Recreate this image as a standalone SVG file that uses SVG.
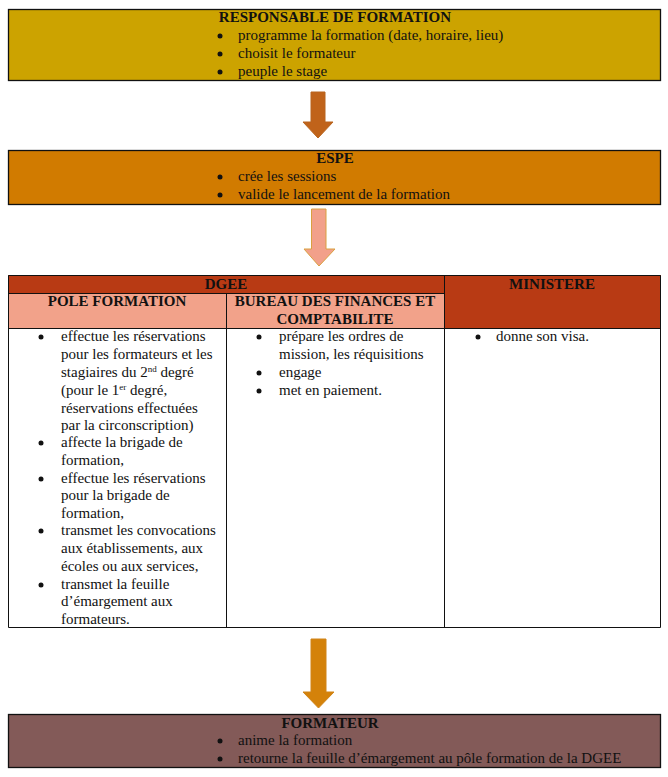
<svg xmlns="http://www.w3.org/2000/svg" width="668" height="777" viewBox="0 0 668 777">
<style>
text{font-family:"Liberation Serif","Times New Roman",serif;font-size:15px;fill:#111}
.t{font-weight:bold;text-anchor:middle}
.b{fill:#111}
.box{stroke:#111;stroke-width:1.3}
.grid{stroke:#111;stroke-width:1;fill:none}
</style>
<defs>
<circle id="dot" r="2.5" class="b"/>
</defs>
<rect width="668" height="777" fill="#fff"/>

<g id="responsable">
<rect class="box" x="8.5" y="9.5" width="652" height="71" fill="#CCA300"/>
<text class="t" x="335" y="22">RESPONSABLE DE FORMATION</text>
<use href="#dot" x="220" y="36"/><text x="238" y="40">programme la formation (date, horaire, lieu)</text>
<use href="#dot" x="220" y="54"/><text x="238" y="58">choisit le formateur</text>
<use href="#dot" x="220" y="72"/><text x="238" y="76">peuple le stage</text>
</g>

<g id="espe">
<rect class="box" x="8.5" y="150.5" width="652" height="54" fill="#D17B00"/>
<text class="t" x="335" y="163">ESPE</text>
<use href="#dot" x="220" y="177"/><text x="238" y="181">crée les sessions</text>
<use href="#dot" x="220" y="195"/><text x="238" y="199">valide le lancement de la formation</text>
</g>

<g id="connectors">
<polygon points="311,92 325,92 325,122 333,122 318,138 303,122 311,122" fill="#C0631A" stroke="#B8651E" stroke-width="1"/>
<polygon points="311.5,209 326,209 326,249 335,249 319,266 304,249 311.5,249" fill="#F2A08A" stroke="#D9A040" stroke-width="1"/>
<polygon points="311,639 326,639 326,692 334,692 318.5,708 303,692 311,692" fill="#D4820A" stroke="#D08418" stroke-width="1"/>
</g>

<g id="table">
<rect x="8" y="275" width="653" height="18" fill="#B83A14"/>
<rect x="444" y="275" width="217" height="53" fill="#B83A14"/>
<rect x="8" y="293" width="436" height="35" fill="#F2A28A"/>
<path class="grid" d="M8.5,275.5H660.5V627.5H8.5Z M8.5,293.5H444 M8.5,328.5H660.5 M226.5,293V627.5 M444.5,275V627.5"/>
<text class="t" x="226" y="289">DGEE</text>
<text class="t" x="552" y="289">MINISTERE</text>
<text class="t" x="117" y="306">POLE FORMATION</text>
<text class="t" x="335" y="306">BUREAU DES FINANCES ET</text>
<text class="t" x="335" y="324">COMPTABILITE</text>
</g>

<g id="pole-formation">
<use href="#dot" x="41" y="337"/>
<text x="61" y="341">effectue les réservations</text>
<text x="61" y="359">pour les formateurs et les</text>
<text x="61" y="377">stagiaires du 2<tspan font-size="9" dy="-5">nd</tspan><tspan dy="5"> degré</tspan></text>
<text x="61" y="395">(pour le 1<tspan font-size="9" dy="-5">er</tspan><tspan dy="5"> degré,</tspan></text>
<text x="61" y="413">réservations effectuées</text>
<text x="61" y="430">par la circonscription)</text>
<use href="#dot" x="41" y="443"/>
<text x="61" y="447">affecte la brigade de</text>
<text x="61" y="465">formation,</text>
<use href="#dot" x="41" y="479"/>
<text x="61" y="483">effectue les réservations</text>
<text x="61" y="500">pour la brigade de</text>
<text x="61" y="518">formation,</text>
<use href="#dot" x="41" y="531"/>
<text x="61" y="535">transmet les convocations</text>
<text x="61" y="553">aux établissements, aux</text>
<text x="61" y="571">écoles ou aux services,</text>
<use href="#dot" x="41" y="585"/>
<text x="61" y="589">transmet la feuille</text>
<text x="61" y="606">d’émargement aux</text>
<text x="61" y="624">formateurs.</text>
</g>

<g id="bureau-finances">
<use href="#dot" x="259" y="337"/>
<text x="279" y="341">prépare les ordres de</text>
<text x="279" y="359">mission, les réquisitions</text>
<use href="#dot" x="259" y="373"/>
<text x="279" y="377">engage</text>
<use href="#dot" x="259" y="391"/>
<text x="279" y="395">met en paiement.</text>
</g>

<g id="ministere">
<use href="#dot" x="478" y="337"/>
<text x="496" y="341">donne son visa.</text>
</g>

<g id="formateur">
<rect class="box" x="8.5" y="714.5" width="652" height="53" fill="#835A58"/>
<text class="t" x="330" y="728">FORMATEUR</text>
<use href="#dot" x="220" y="741"/><text x="238" y="745">anime la formation</text>
<use href="#dot" x="220" y="759"/><text x="238" y="763">retourne la feuille d’émargement au pôle formation de la DGEE</text>
</g>
</svg>
